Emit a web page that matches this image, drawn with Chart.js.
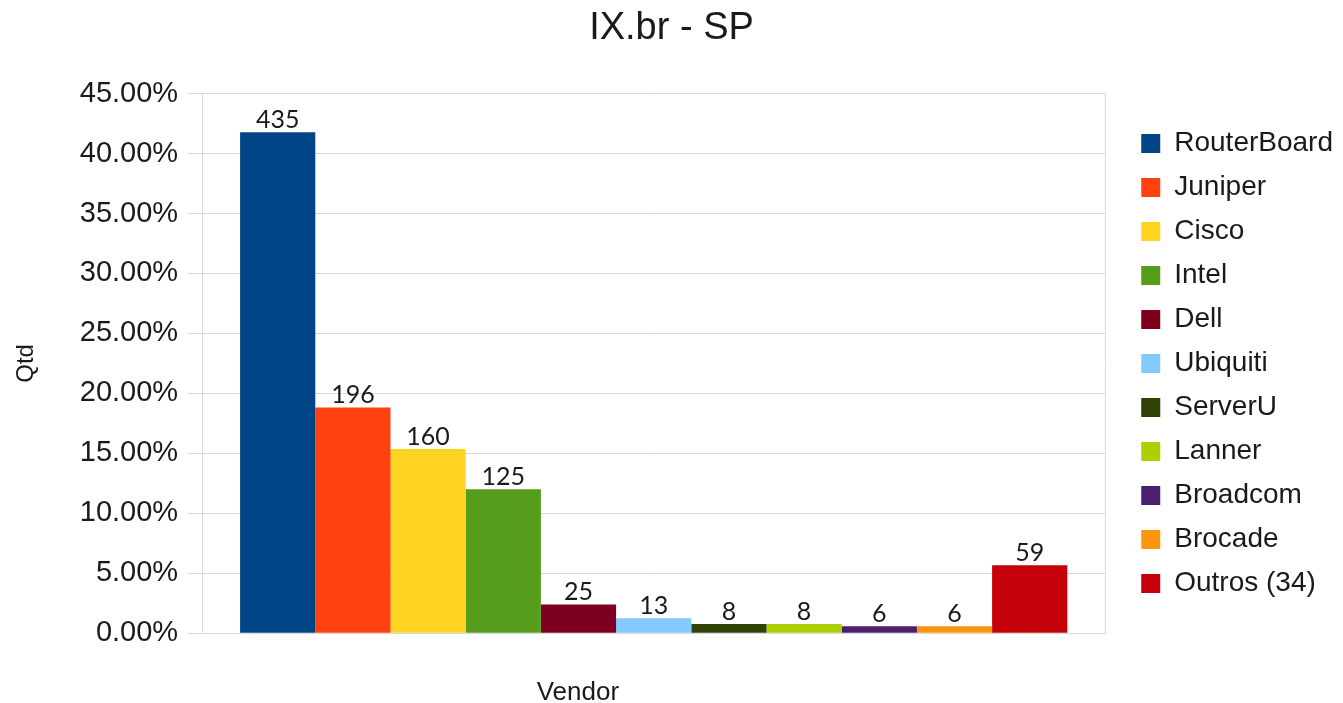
<!DOCTYPE html>
<html>
<head>
<meta charset="utf-8">
<title>IX.br - SP</title>
<script src="https://cdn.jsdelivr.net/npm/chart.js@4/dist/chart.umd.min.js"></script>
<style>
  html, body { margin: 0; padding: 0; background: #fff; }
  #wrap { width: 1343px; height: 703px; }
</style>
</head>
<body>
<div id="wrap"><canvas id="vendorChart"></canvas></div>
<script>
// quantidade de roteadores por fabricante
const vendors = ['RouterBoard', 'Juniper', 'Cisco', 'Intel', 'Dell', 'Ubiquiti',
                 'ServerU', 'Lanner', 'Broadcom', 'Brocade', 'Outros (34)']
const counts = [435, 196, 160, 125, 25, 13, 8, 8, 6, 6, 59]
const colors = ['#004586', '#ff420e', '#ffd320', '#579d1c', '#7e0021', '#83caff',
                '#314004', '#aecf00', '#4b1f6f', '#ff950e', '#c5000b']
const yTicks = [0, 5, 10, 15, 20, 25, 30, 35, 40, 45]

const total = counts.reduce((a, b) => a + b, 0)
const textColor = '#1a1a1a'
const gridColor = '#d9d9d9'

// escreve a quantidade em cima de cada barra
const countLabels = {
    id: 'countLabels',
    afterDatasetsDraw(chart) {
        const ctx = chart.ctx
        ctx.save()
        ctx.font = '25px Lato'
        ctx.fillStyle = textColor
        ctx.textAlign = 'center'
        ctx.textBaseline = 'alphabetic'
        chart.data.datasets.forEach((ds, i) => {
            const bar = chart.getDatasetMeta(i).data[0]
            ctx.fillText(String(counts[i]), bar.x, bar.y - 4)
        })
        ctx.restore()
    }
}

function vendorChart(id) {
    const datasets = vendors.map((name, i) => ({
        label: name,
        data: [counts[i] / total * 100],
        backgroundColor: colors[i],
        categoryPercentage: 0.916,
        barPercentage: 1
    }))

    const config = {
        type: 'bar',
        data: { labels: [''], datasets: datasets },
        options: {
            responsive: true,
            maintainAspectRatio: false,
            animation: false,
            layout: { padding: { left: 0, right: 0, top: 0, bottom: 0 } },
            plugins: {
                title: {
                    display: true,
                    text: 'IX.br - SP',
                    color: textColor,
                    font: { family: 'Liberation Sans', size: 38, weight: 'normal' },
                    padding: { top: 6, bottom: 42 }
                },
                legend: {
                    position: 'right',
                    fullSize: false,
                    labels: {
                        color: textColor,
                        font: { family: 'Liberation Sans', size: 28 },
                        boxWidth: 19,
                        boxHeight: 19,
                        padding: 16
                    }
                },
                tooltip: { enabled: false }
            },
            scales: {
                x: {
                    grid: { color: gridColor, drawTicks: false, offset: true },
                    border: { color: gridColor },
                    ticks: { display: false },
                    title: {
                        display: true,
                        text: 'Vendor                     ',
                        color: textColor,
                        font: { family: 'Liberation Sans', size: 26, lineHeight: 0.8 },
                        padding: { top: 49, bottom: 0 }
                    }
                },
                y: {
                    min: 0,
                    max: 45,
                    afterBuildTicks: (s) => { s.ticks = yTicks.map(v => ({ value: v })) },
                    grid: { color: gridColor, tickLength: 14 },
                    border: { color: gridColor },
                    ticks: {
                        color: textColor,
                        padding: 10,
                        font: { family: 'Liberation Sans', size: 29 },
                        callback: (v) => v.toFixed(2) + '%'
                    },
                    title: {
                        display: true,
                        text: 'Qtd',
                        color: textColor,
                        font: { family: 'Liberation Sans', size: 24 },
                        padding: { top: 12, bottom: 29 }
                    }
                },
                // espaco entre o grafico e a legenda
                gap: {
                    position: 'right',
                    grid: { display: false },
                    border: { display: false },
                    ticks: { display: false },
                    afterFit: (s) => { s.width = 20 }
                }
            }
        },
        plugins: [countLabels]
    }

    let ctx = document.getElementById(id).getContext('2d')
    new Chart(ctx, config)
}

vendorChart('vendorChart')
</script>
</body>
</html>
